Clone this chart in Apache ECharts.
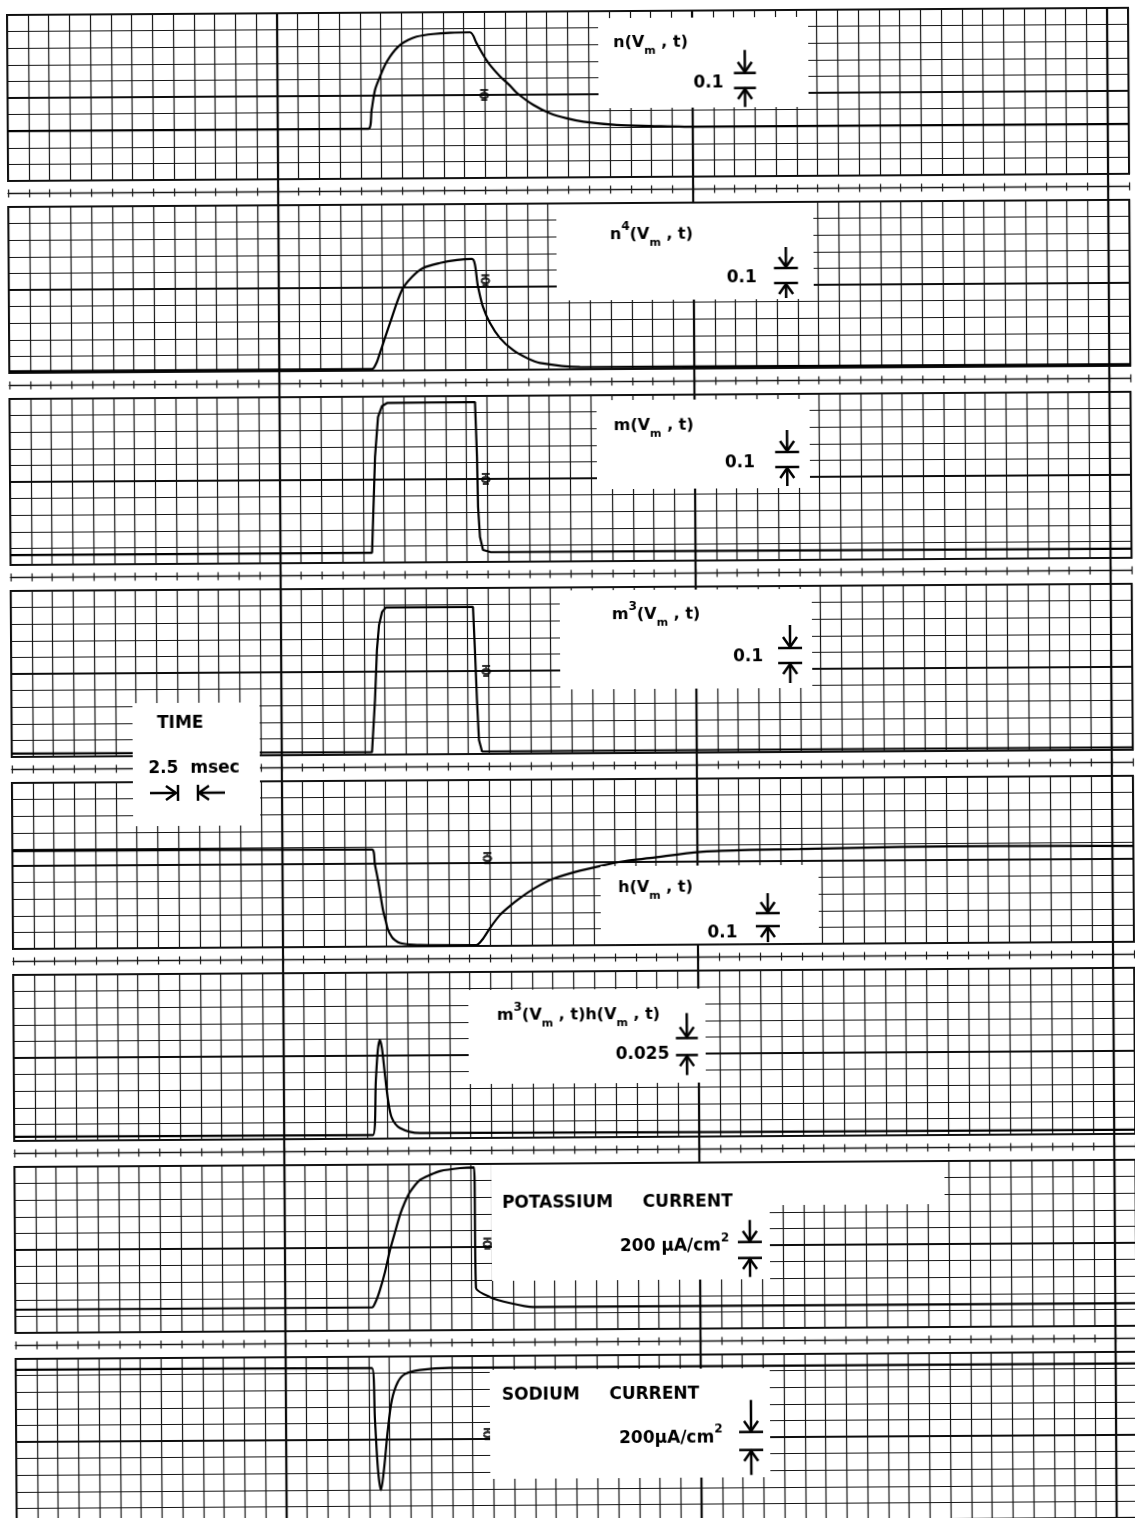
<!DOCTYPE html>
<html>
<head>
<meta charset="utf-8">
<script src="https://cdn.jsdelivr.net/npm/echarts@6/dist/echarts.min.js"></script>
<style>
  html, body { margin: 0; padding: 0; background: #fff; overflow: hidden; width: 1135px; height: 1518px; }
  /* the recorder sheet sits slightly skewed on the page */
  #chart { position: absolute; left: 0; top: 0; width: 1135px; height: 1545px;
           transform-origin: 7px 15px; transform: rotate(-0.367deg); }
</style>
</head>
<body>
<div id="chart"></div>
<script>
// Time axis: one chart division = 2.5 ms, 54 divisions across the sheet.
const timeMin = 0, timeMax = 135, timeStep = 2.5;
// Each trace value is in chart divisions above its panel's lower edge (10 divisions tall).

// n(Vm,t)
const nTime = [0, 43.42, 43.84, 44.26, 44.87, 45.48, 46.09, 46.7, 47.3, 48.3, 49.31, 51.32, 53.33, 55.74,
               56.54, 57.32, 58.13, 59.32, 60.52, 61.32, 63.31, 65.31, 67.32, 69.32, 73.33, 77.35, 83.4, 135];
const nVal  = [3.0, 3.0, 4.14, 5.34, 6.14, 6.84, 7.34, 7.74, 8.04, 8.34, 8.54, 8.69, 8.76, 8.78,
               8.11, 7.41, 6.8, 6.12, 5.55, 5.12, 4.38, 3.87, 3.56, 3.35, 3.14, 3.07, 3.0, 3.0];

// n^4(Vm,t)
const n4Time = [0, 43.68, 44.17, 44.65, 45.88, 47.35, 48.57, 49.9, 51.95, 54.0, 55.8, 56.52, 57.09, 57.92, 59.11, 60.67, 62.35, 63.92, 68.72, 135];
const n4Val  = [0.1, 0.1, 0.4, 1.06, 2.86, 4.85, 5.63, 6.16, 6.46, 6.63, 6.69, 5.0, 3.8, 2.83, 1.92, 1.19, 0.7, 0.4, 0.14, 0.1];

// m(Vm,t)
const mTime = [0, 43.55, 43.98, 44.37, 44.86, 45.46, 56.06, 56.26, 56.35, 56.56, 56.91, 57.76, 135];
const mVal  = [0.6, 0.6, 6.36, 8.77, 9.43, 9.61, 9.64, 6.33, 3.31, 1.5, 0.72, 0.6, 0.55];

// m^3(Vm,t)
const m3Time = [0, 43.39, 43.79, 44.06, 44.33, 44.7, 45.18, 55.66, 55.86, 56.07, 56.28, 56.64, 135];
const m3Val  = [0.2, 0.15, 3.29, 6.3, 7.8, 8.59, 8.87, 8.86, 6.27, 3.25, 0.84, 0.15, 0.15];

// h(Vm,t)
const hTime = [0, 43.31, 43.66, 44.01, 44.24, 44.59, 44.94, 45.18, 45.65, 46.01, 46.61, 47.21, 49.02,
               55.76, 56.49, 57.46, 58.67, 59.88, 61.09, 62.9, 64.72, 67.74, 70.75, 73.77, 76.78, 82.8, 88.83, 94.85, 106.9, 118.9, 135];
const hVal  = [5.9, 5.85, 4.92, 4.01, 3.29, 2.2, 1.48, 1.0, 0.57, 0.39, 0.21, 0.15, 0.08,
               0.06, 0.36, 1.08, 1.86, 2.4, 2.87, 3.47, 3.95, 4.42, 4.77, 5.06, 5.23, 5.58, 5.68, 5.72, 5.8, 5.82, 5.77];

// m^3(Vm,t) h(Vm,t)
const m3hTime = [0, 43.2, 43.6, 43.86, 44.1, 44.35, 44.7, 45.05, 45.5, 46.46, 48.87, 135];
const m3hVal  = [0.25, 0.22, 3.53, 5.34, 5.94, 5.46, 3.83, 2.33, 1.24, 0.63, 0.32, 0.25];

// potassium current
const kTime = [0, 42.96, 43.44, 43.93, 44.55, 45.17, 45.79, 46.4, 47.01, 47.62, 48.83, 50.04, 51.25, 53.66, 55.35,
               55.5, 57.18, 59.58, 62.35, 135];
const kVal  = [1.4, 1.4, 1.78, 2.45, 3.53, 4.85, 5.93, 6.96, 7.74, 8.34, 9.06, 9.36, 9.59, 9.76, 9.8,
               2.53, 1.98, 1.61, 1.36, 1.36];

// sodium current
const naTime = [0, 42.9, 43.23, 43.56, 43.9, 44.27, 44.77, 45.28, 46.01, 46.87, 48.67, 52.29, 135];
const naVal  = [9.35, 9.32, 6.18, 3.17, 1.96, 3.17, 5.58, 7.38, 8.46, 8.94, 9.18, 9.3, 9.3];

// pen time-marks near the end of the step, one per panel (null = none)
const markTime = [57.4, 57.4, 57.3, 57.2, 57.2, null, 56.9, 56.8];
const markVal  = [5.0, 5.4, 5.0, 5.0, 5.3, null, 5.2, 5.3];

// heavy long verticals crossing the whole sheet
const longLines = [32.5, 82.5, 132.5];

// [time, value, smoothing]
const traces = [
  [nTime, nVal, 0.3], [n4Time, n4Val, 0.3], [mTime, mVal, 0], [m3Time, m3Val, 0],
  [hTime, hVal, 0.3], [m3hTime, m3hVal, 0.3], [kTime, kVal, 0.2], [naTime, naVal, 0.3]
];

// ---- layout of the sheet ----
const LEFT = 7, WIDTH = 1121, TOP = 15, STEP = 192, PANEL_H = 166;
const INK = '#0d0d0d', GRIDINK = '#151515';

const pairs = (t, v) => t.map((x, i) => [x, v[i]]);
const grids = [], xAxes = [], yAxes = [], series = [];

function timeAxis(gi, extra) {
  return Object.assign({
    type: 'value', gridIndex: gi, min: timeMin, max: timeMax, interval: timeStep,
    axisLine: { show: false }, axisTick: { show: false }, axisLabel: { show: false },
    splitLine: { show: true, lineStyle: { color: GRIDINK, width: 1.2 } }
  }, extra || {});
}

traces.forEach((tr, i) => {
  grids.push({ left: LEFT, top: TOP + i * STEP, width: WIDTH, height: PANEL_H,
               show: true, borderColor: INK, borderWidth: 2, backgroundColor: 'transparent' });
  xAxes.push(timeAxis(i));
  yAxes.push({ type: 'value', gridIndex: i, min: 0, max: 10, interval: 1,
               axisLine: { show: false }, axisTick: { show: false }, axisLabel: { show: false },
               splitLine: { show: true, lineStyle: { color: GRIDINK, width: 1.2 } } });
  series.push({
    type: 'line', xAxisIndex: i, yAxisIndex: i, data: pairs(tr[0], tr[1]),
    symbol: 'none', smooth: tr[2],
    lineStyle: { color: '#000', width: 2.2 }, z: 20, silent: true,
    markLine: { silent: true, symbol: 'none', label: { show: false },
                lineStyle: { color: INK, width: 2.2, type: 'solid' }, data: [{ yAxis: 5 }] }
  });
  if (markTime[i] !== null) {
    series.push({
      type: 'scatter', xAxisIndex: i, yAxisIndex: i, data: [[markTime[i], markVal[i]]],
      symbol: 'path://M1,1 L9,1 M5,1 L5,4 M1,6 C2,3 8,3 9,6 C8,9 2,9 1,6 M2,10 L8,10',
      symbolSize: [8, 10], itemStyle: { color: 'transparent', borderColor: '#000', borderWidth: 2 },
      z: 21, silent: true
    });
  }
});

// tick strips between panels
for (let i = 0; i < 7; i++) {
  const gi = grids.length;
  grids.push({ left: LEFT, top: TOP + i * STEP + PANEL_H + 12.5 - 4, width: WIDTH, height: 8, show: false });
  xAxes.push(timeAxis(gi, { axisLine: { show: true, onZero: true, lineStyle: { color: GRIDINK, width: 1.3 } } }));
  yAxes.push({ type: 'value', gridIndex: gi, min: -1, max: 1, show: false });
}

// full-height overlay for the long verticals
const ov = grids.length;
grids.push({ left: LEFT, top: TOP, width: WIDTH, height: 1530, show: false });
xAxes.push({ type: 'value', gridIndex: ov, min: timeMin, max: timeMax, show: false });
yAxes.push({ type: 'value', gridIndex: ov, min: 0, max: 1, show: false });
series.push({
  type: 'line', xAxisIndex: ov, yAxisIndex: ov, data: [], symbol: 'none', silent: true,
  markLine: { silent: true, symbol: 'none', label: { show: false },
              lineStyle: { color: INK, width: 2.2, type: 'solid' },
              data: longLines.map(x => ({ xAxis: x })) }
});

// ---- lettering ----
const FONT = '"DejaVu Sans", "Liberation Sans", sans-serif';
const richStyles = {
  a:   { fontFamily: FONT, fontWeight: 'bold', fontSize: 16, lineHeight: 28, verticalAlign: 'middle', fill: '#000' },
  s:   { fontFamily: FONT, fontWeight: 'bold', fontSize: 11, lineHeight: 13, verticalAlign: 'bottom', fill: '#000' },
  u:   { fontFamily: FONT, fontWeight: 'bold', fontSize: 12, lineHeight: 13, verticalAlign: 'top', fill: '#000' },
  big: { fontFamily: FONT, fontWeight: 'bold', fontSize: 17, lineHeight: 28, verticalAlign: 'middle', fill: '#000' }
};

const G = [];
function box(x, y, w, h) {
  G.push({ type: 'rect', shape: { x, y, width: w, height: h }, style: { fill: '#fff' }, z: 100, silent: true });
}
function label(x, y, text) {
  G.push({ type: 'text', x, y, z: 102, silent: true,
           style: { text, rich: richStyles, verticalAlign: 'middle', align: 'left',
                    fontFamily: FONT, fontWeight: 'bold', fontSize: 16, fill: '#000' } });
}
function seg(x1, y1, x2, y2) {
  G.push({ type: 'line', shape: { x1, y1, x2, y2 }, style: { stroke: '#000', lineWidth: 2.5 }, z: 101, silent: true });
}
function chevron(pts) {
  G.push({ type: 'polyline', shape: { points: pts }, style: { stroke: '#000', lineWidth: 2.5, fill: null }, z: 101, silent: true });
}
// scale bar: arrow down onto a bar, gap, bar with arrow up underneath
function scaleMark(cx, yTop, yBar1, yBar2, yBot, hw) {
  seg(cx, yTop, cx, yBar1 - 1);
  chevron([[cx - 7, yBar1 - 11], [cx, yBar1 - 1], [cx + 7, yBar1 - 11]]);
  seg(cx - hw, yBar1, cx + hw, yBar1);
  seg(cx - hw, yBar2, cx + hw, yBar2);
  chevron([[cx - 7, yBar2 + 11], [cx, yBar2 + 1], [cx + 7, yBar2 + 11]]);
  seg(cx, yBar2 + 1, cx, yBot);
}

// n
box(598, 22, 210, 90);
label(613, 47, '{a|n(V}{s|m}{a| , t)}');
label(693, 87.5, '{big|0.1}');
scaleMark(744.5, 54.7, 77.7, 92.7, 111.7, 11);
// n^4
box(555, 208, 257, 96);
label(608.5, 239, '{a|n}{u|4}{a|(V}{s|m}{a| , t)}');
label(725, 282.6, '{big|0.1}');
scaleMark(784.3, 252, 273, 288, 303, 12);
// m
box(594, 404, 213, 89);
label(611, 429.4, '{a|m(V}{s|m}{a| , t)}');
label(722, 468, '{big|0.1}');
scaleMark(784.3, 435, 457, 472, 491, 12);
// m^3
box(556, 594, 252, 99);
label(608, 619, '{a|m}{u|3}{a|(V}{s|m}{a| , t)}');
label(729, 662, '{big|0.1}');
scaleMark(786, 630, 653, 668, 688, 12);
// h
box(595, 870, 218, 78);
label(612.5, 892, '{a|h(V}{s|m}{a| , t)}');
label(701.5, 938, '{big|0.1}');
scaleMark(762, 898, 918, 931, 947, 12);
// m^3 h
box(462, 993, 237, 94);
label(490.6, 1019, '{a|m}{u|3}{a|(V}{s|m}{a| , t)h(V}{s|m}{a| , t)}');
label(609, 1059, '{big|0.025}');
scaleMark(680.3, 1017.4, 1042.4, 1059.4, 1079.4, 11);
// potassium current
box(484, 1168, 278, 116);
box(762, 1168, 175, 42);
label(494.4, 1206.2, '{big|POTASSIUM     CURRENT}');
label(612, 1251, '{big|200 μA/cm}{u|2}');
scaleMark(742, 1224.7, 1246.7, 1262.7, 1281.7, 12);
// sodium current
box(481, 1373, 280, 109);
label(493, 1398.2, '{big|SODIUM     CURRENT}');
label(610, 1442.3, '{big|200μA/cm}{u|2}');
scaleMark(742, 1404.7, 1436.7, 1454.7, 1479.7, 12);
// time scale
box(128, 704, 127, 123);
label(152.5, 725, '{big|TIME}');
label(143.5, 770, '{big|2.5  msec}');
seg(145, 794, 170, 794);
chevron([[161, 787], [171, 794], [161, 801]]);
seg(173, 786, 173, 802);
seg(193, 786, 193, 802);
chevron([[204, 787], [194, 794], [204, 801]]);
seg(195, 794, 220, 794);

const chart = echarts.init(document.getElementById('chart'), null, { renderer: 'canvas' });
chart.setOption({
  animation: false,
  backgroundColor: '#fff',
  grid: grids, xAxis: xAxes, yAxis: yAxes, series,
  graphic: { elements: G }
});
</script>
</body>
</html>
